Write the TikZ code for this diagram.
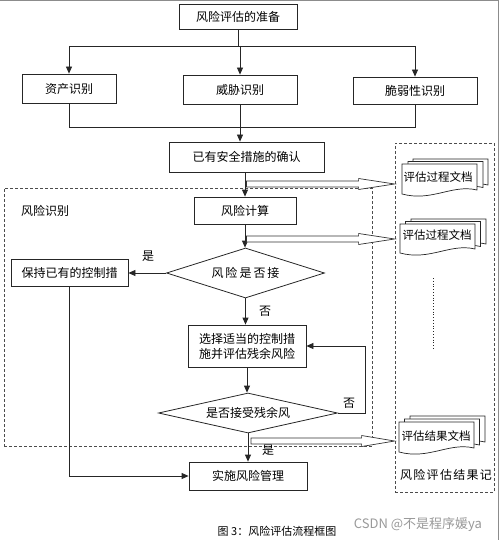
\documentclass[tikz,border=0pt]{standalone}
\usepackage{fontspec}
\setmainfont{Noto Sans CJK SC}
\usetikzlibrary{arrows.meta,shapes.geometric,calc}
\newcommand\docshape[4]{\path[doc] (#1,#2) -- (#3,#2) -- (#3,#4-4) .. controls (#3-25,#4-10) and (#1+30,#4+8) .. (#1,#4) -- cycle;}
\newcommand\hollowarrow[3]{\draw[hol] ($(#1)+(0,-3)$) -- ($(#2)+(-#3,-3)$) -- ($(#2)+(-#3,-5.5)$) -- (#2) -- ($(#2)+(-#3,5.5)$) -- ($(#2)+(-#3,3)$) -- ($(#1)+(0,3)$) -- cycle;}
\begin{document}
\begin{tikzpicture}[x=1pt,y=-1pt,
  box/.style={draw=black!85,line width=0.8pt,inner sep=0pt,font=\fontsize{12}{15}\selectfont},
  dia/.style={draw=black!85,line width=0.8pt,diamond,shape aspect=3,inner sep=0pt,font=\fontsize{12}{14}\selectfont},
  con/.style={draw=black!85,line width=0.8pt},
  arr/.style={con,-{Triangle[length=7pt,width=6pt]}},
  lab/.style={font=\fontsize{12}{14}\selectfont},
  hol/.style={draw=black!80,line width=0.7pt,fill=white},
  dbox/.style={draw=black!70,line width=0.8pt,dash pattern=on 3pt off 2pt,inner sep=0pt},
  doc/.style={draw=black!85,line width=0.7pt,fill=white}]
\useasboundingbox (0,0) rectangle (499,540);
\draw[black!45,line width=1pt] (0,0.5) -- (498,0.5) -- (498,540);
% dashed groups
\node[dbox,minimum width=368pt,minimum height=258pt] (riskbox) at (188,317) {};
\node[lab] (risklab) at (45,211) {风险识别};
\node[dbox,minimum width=99pt,minimum height=349pt] (resbox) at (444.5,317.5) {};
\node[lab] (reslab) at (446,475) {风\hspace{1.3pt}险\hspace{1.3pt}评\hspace{1.3pt}估\hspace{1.3pt}结\hspace{1.3pt}果\hspace{1.3pt}记};
% main nodes
\node[box,minimum width=118pt,minimum height=25pt] (prep) at (238,16.5) {风险评估的准备};
\node[box,minimum width=94pt,minimum height=29pt] (asset) at (69,88.5) {资产识别};
\node[box,minimum width=114pt,minimum height=29pt] (threat) at (240,89.5) {威胁识别};
\node[box,minimum width=124pt,minimum height=27pt] (vuln) at (415,90.5) {脆弱性识别};
\node[box,minimum width=155pt,minimum height=30pt] (exist) at (246.5,157) {已有安全措施的确认};
\node[box,minimum width=102pt,minimum height=27pt] (calc) at (245,210.5) {风险计算};
\node[dia,minimum width=158pt,minimum height=50pt] (d1) at (245.5,273) {风\hspace{2pt}险\hspace{2pt}是\hspace{2pt}否\hspace{2pt}接};
\node[box,minimum width=117pt,minimum height=27pt] (keep) at (69.5,272.5) {保持已有的控制措};
\node[box,minimum width=118pt,minimum height=42pt,align=center] (sel) at (247,346) {选择适当的控制措\\施并评估残余风险};
\node[dia,minimum width=179pt,minimum height=40pt] (d2) at (248,413) {是否接受残余风};
\node[box,minimum width=118pt,minimum height=28pt] (impl) at (248,476) {实施风险管理};
% labels
\node[lab] (yes1) at (148,256) {是};
\node[lab] (no1) at (265,311) {否};
\node[lab] (no2) at (349,403) {否};
\node[lab] (yes2) at (268,450) {是};
% top connectors
\coordinate (hl) at (0,46);
\coordinate (hl2) at (0,127);
\draw[con] (prep.south) -- (prep.south |- hl);
\draw[con] (asset.north |- hl) -- (vuln.north |- hl);
\draw[arr] (asset.north |- hl) -- (asset.north);
\draw[arr] (threat.north |- hl) -- (threat.north);
\draw[arr] (vuln.north |- hl) -- (vuln.north);
\draw[con] (asset.south) -- (asset.south |- hl2) -- (vuln.south |- hl2) -- (vuln.south);
\draw[arr] (threat.south) -- (threat.south |- exist.north);
\draw[arr] (calc.north |- exist.south) -- (calc.north);
\draw[arr] (calc.south) -- (calc.south |- d1.north);
\draw[arr] (d1.west) -- (keep.east |- d1.west);
\draw[arr] (d1.south) -- (d1.south |- sel.north);
\draw[arr] (sel.south) -- (sel.south |- d2.north);
\coordinate (fb) at (365,0);
\draw[arr] (d2.east) -- (d2.east -| fb) -- (fb |- sel.east) -- (sel.east);
\draw[arr] (d2.south) -- (d2.south |- impl.north);
\draw[arr] (keep.south) -- (keep.south |- impl.west) -- (impl.west);
% documents
\docshape{413}{159}{488}{189}
\docshape{408}{161.5}{483}{191.5}
\docshape{402}{164}{477}{194}
\node[inner sep=0pt,font=\fontsize{11.5}{13}\selectfont] (doc1) at (438,177) {评估过程文档};
\docshape{411}{219}{486}{248}
\docshape{405.5}{221.5}{480.5}{250.5}
\docshape{400}{224}{475}{253}
\node[inner sep=0pt,font=\fontsize{11.5}{13}\selectfont] (doc2) at (437,235) {评估过程文档};
\docshape{410}{416}{485}{446}
\docshape{404.5}{419}{479.5}{449}
\docshape{399}{422}{474}{452}
\node[inner sep=0pt,font=\fontsize{11.5}{13}\selectfont] (doc3) at (436,436) {评估结果文档};
\draw[black!85,line width=0.8pt,dotted] (433,278) -- (433,350);
% hollow arrows
\coordinate (h1s) at (246.5,184);
\coordinate (h1e) at (resbox.west |- h1s);
\hollowarrow{h1s}{h1e}{36}
\coordinate (h2s) at (246.5,239);
\coordinate (h2e) at (resbox.west |- h2s);
\hollowarrow{h2s}{h2e}{36}
\coordinate (h3s) at (251,441);
\coordinate (h3e) at (resbox.west |- h3s);
\hollowarrow{h3s}{h3e}{33}
% caption
\node[font=\fontsize{11}{13}\selectfont] (cap) at (277,531) {图 3：风险评估流程框图};
\node[text=black!40,font=\fontsize{13}{15}\selectfont] (wm) at (418,525) {CSDN @不是程序媛ya};
\end{tikzpicture}
\end{document}
